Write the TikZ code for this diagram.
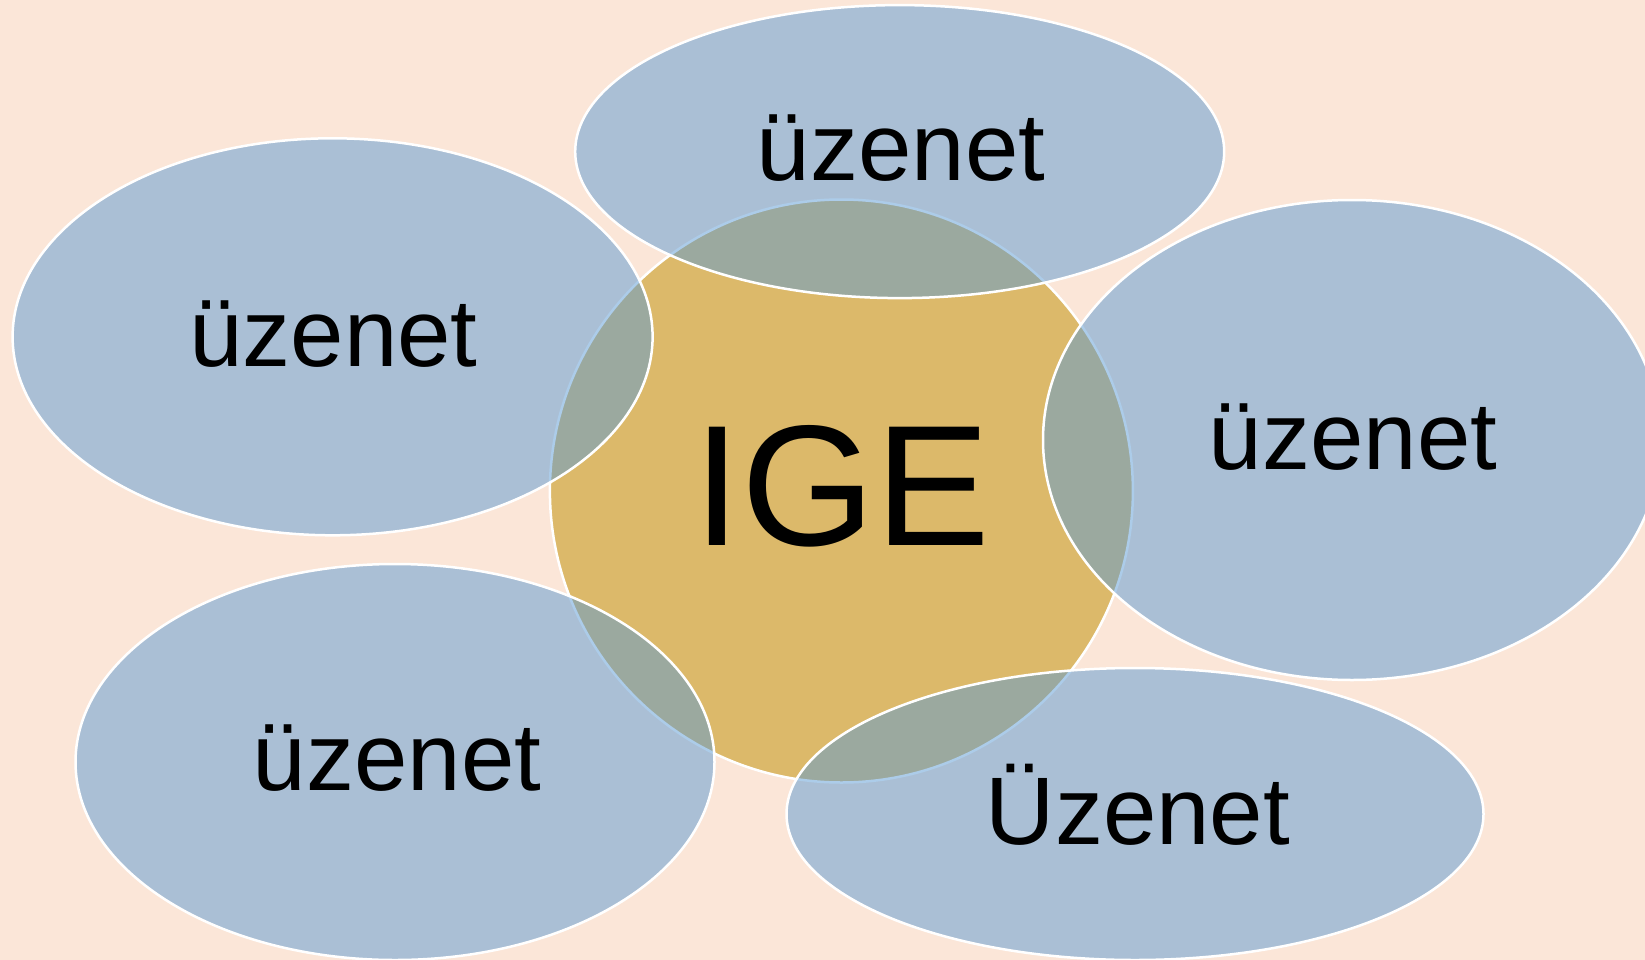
\documentclass[tikz,border=0pt]{standalone}
\usepackage{fontspec}
\setmainfont{Liberation Sans}
\usetikzlibrary{shapes.geometric}
\definecolor{bgpeach}{RGB}{251,230,216}
\definecolor{gold}{RGB}{220,185,106}
\definecolor{bluefill}{RGB}{91,154,212}
\tikzset{
  blob/.style={ellipse, inner sep=0pt, outer sep=0pt, draw=white, line width=2.5pt,
    fill=bluefill, fill opacity=0.5, draw opacity=1},
  core/.style={circle, inner sep=0pt, outer sep=0pt, draw=white, line width=2.5pt,
    fill=gold, minimum size=583pt},
  msg/.style={anchor=base, inner sep=0pt, font=\fontsize{96}{100}\selectfont, text=black, text opacity=1},
  big/.style={anchor=base, inner sep=0pt, font=\fontsize{172}{180}\selectfont, text=black}
}
\begin{document}
\begin{tikzpicture}[x=1pt,y=-1pt]
\useasboundingbox (0,0) rectangle (1645,960);
\fill[bgpeach] (0,0) rectangle (1645,960);
\clip (0,0) rectangle (1645,960);
\node[core] (c) at (841.4,491) {};
\node[blob, minimum width=649pt, minimum height=293pt] (e1) at (899.7,151.6) {};
\node[blob, minimum width=618pt, minimum height=480pt] (e2) at (1352,440) {};
\node[blob, minimum width=697pt, minimum height=292pt] (e3) at (1135,814) {};
\node[blob, minimum width=639pt, minimum height=396pt] (e4) at (395,762) {};
\node[blob, minimum width=640pt, minimum height=397pt] (e5) at (332.6,336.8) {};
\node[big] (tc) at (842,545.5) {IGE};
\node[msg] (t1) at (901,180.4) {üzenet};
\node[msg] (t2) at (1353,469) {üzenet};
\node[msg] (t3) at (1138,844.5) {Üzenet};
\node[msg] (t4) at (397,790) {üzenet};
\node[msg] (t5) at (333.5,366) {üzenet};
\end{tikzpicture}
\end{document}
